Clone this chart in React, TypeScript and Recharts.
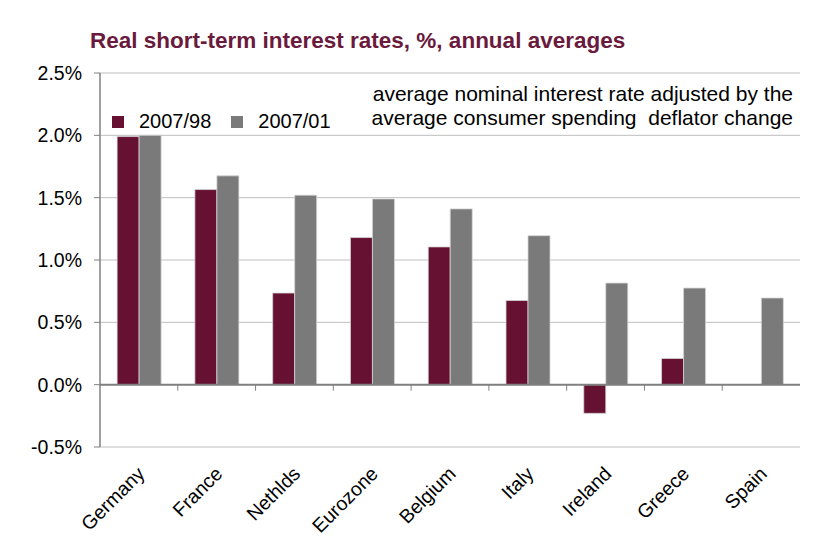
import React from "react";
import { Bar, BarChart, CartesianGrid, ReferenceLine, XAxis, YAxis } from "recharts";

const countries = ["Germany", "France", "Nethlds", "Eurozone", "Belgium", "Italy", "Ireland", "Greece", "Spain"];
const rate9807 = [1.99, 1.565, 0.735, 1.18, 1.105, 0.675, -0.23, 0.21, 0];
const rate0107 = [2.0, 1.675, 1.52, 1.49, 1.41, 1.195, 0.815, 0.775, 0.695];
const yTicks = [-0.5, 0, 0.5, 1.0, 1.5, 2.0, 2.5];
const Y_MIN = -0.5;
const Y_MAX = 2.5;

const data = countries.map((name, i) => ({ name, a: rate9807[i], b: rate0107[i] }));

const W = 835;
const H = 558;
const MARGIN = { top: 73, right: 35, left: 0, bottom: 11 };
const Y_AXIS_W = 100;
const X_AXIS_H = 100;
const PLOT_LEFT = MARGIN.left + Y_AXIS_W;
const PLOT_W = W - MARGIN.left - MARGIN.right - Y_AXIS_W;
const PLOT_BOTTOM = H - MARGIN.bottom - X_AXIS_H;
const PLOT_H = PLOT_BOTTOM - MARGIN.top;

const MAROON = "#661131";
const GREY = "#7a7a7a";
const FONT = "'Liberation Sans', Arial, sans-serif";

function CountryTick({ x, y, payload }: any) {
  return (
    <g transform={`translate(${x + 7},${y + 20})`}>
      <text textAnchor="end" transform="rotate(-45)" fontSize={19.5} fontFamily={FONT} fill="#000">
        {payload.value}
      </text>
    </g>
  );
}

// small ticks hanging under the zero line between categories
function BoundaryTicks() {
  const band = PLOT_W / countries.length;
  const zeroY = PLOT_BOTTOM - ((0 - Y_MIN) / (Y_MAX - Y_MIN)) * PLOT_H;
  return (
    <svg width={W} height={H} style={{ position: "absolute", left: 0, top: 0, pointerEvents: "none" }}>
      {countries.slice(1).map((c, i) => {
        const bx = PLOT_LEFT + band * (i + 1);
        return <line key={c} x1={bx} x2={bx} y1={zeroY} y2={zeroY + 6} stroke="#808080" strokeWidth={1} />;
      })}
    </svg>
  );
}

function LegendBox() {
  const item = (color: string, label: string) => (
    <div style={{ display: "flex", alignItems: "center", marginRight: 20 }}>
      <div style={{ width: 12, height: 12, background: color, marginRight: 15 }} />
      <span>{label}</span>
    </div>
  );
  return (
    <div
      style={{
        position: "absolute",
        left: 112,
        top: 110,
        display: "flex",
        fontFamily: FONT,
        fontSize: 20,
        color: "#000",
      }}
    >
      {item(MAROON, "2007/98")}
      {item(GREY, "2007/01")}
    </div>
  );
}

export default function App() {
  return (
    <div style={{ position: "absolute", left: 0, top: 0, width: W, height: H, background: "#fff" }}>
      <BarChart width={W} height={H} data={data} margin={MARGIN} barCategoryGap="22%" barGap={0}>
        <CartesianGrid vertical={false} stroke="#bfbfbf" />
        <XAxis
          dataKey="name"
          axisLine={false}
          tickLine={false}
          interval={0}
          height={X_AXIS_H}
          tick={<CountryTick />}
        />
        <YAxis
          domain={[Y_MIN, Y_MAX]}
          ticks={yTicks}
          width={Y_AXIS_W}
          tickFormatter={(v: number) => `${v.toFixed(1)}%`}
          axisLine={{ stroke: "#808080", strokeWidth: 1.5 }}
          tickLine={{ stroke: "#808080" }}
          tickSize={6}
          tickMargin={12}
          tick={{ fill: "#000", fontSize: 19.5, fontFamily: FONT }}
        />
        <Bar dataKey="a" name="2007/98" fill={MAROON} stroke="#d4d4d4" strokeWidth={0.8} isAnimationActive={false} />
        <Bar dataKey="b" name="2007/01" fill={GREY} stroke="#d4d4d4" strokeWidth={0.8} isAnimationActive={false} />
        <ReferenceLine y={0} stroke="#808080" strokeWidth={2} />
      </BarChart>
      <BoundaryTicks />
      <div
        style={{
          position: "absolute",
          left: 90,
          top: 28,
          fontFamily: FONT,
          fontWeight: "bold",
          fontSize: 22.5,
          color: "#6a1a3c",
          whiteSpace: "nowrap",
        }}
      >
        Real short-term interest rates, %, annual averages
      </div>
      <div
        style={{
          position: "absolute",
          right: 42,
          top: 82,
          fontFamily: FONT,
          fontSize: 21,
          lineHeight: "24px",
          textAlign: "right",
          color: "#000",
          whiteSpace: "pre",
        }}
      >
        {"average nominal interest rate adjusted by the\naverage consumer spending  deflator change"}
      </div>
      <LegendBox />
    </div>
  );
}
